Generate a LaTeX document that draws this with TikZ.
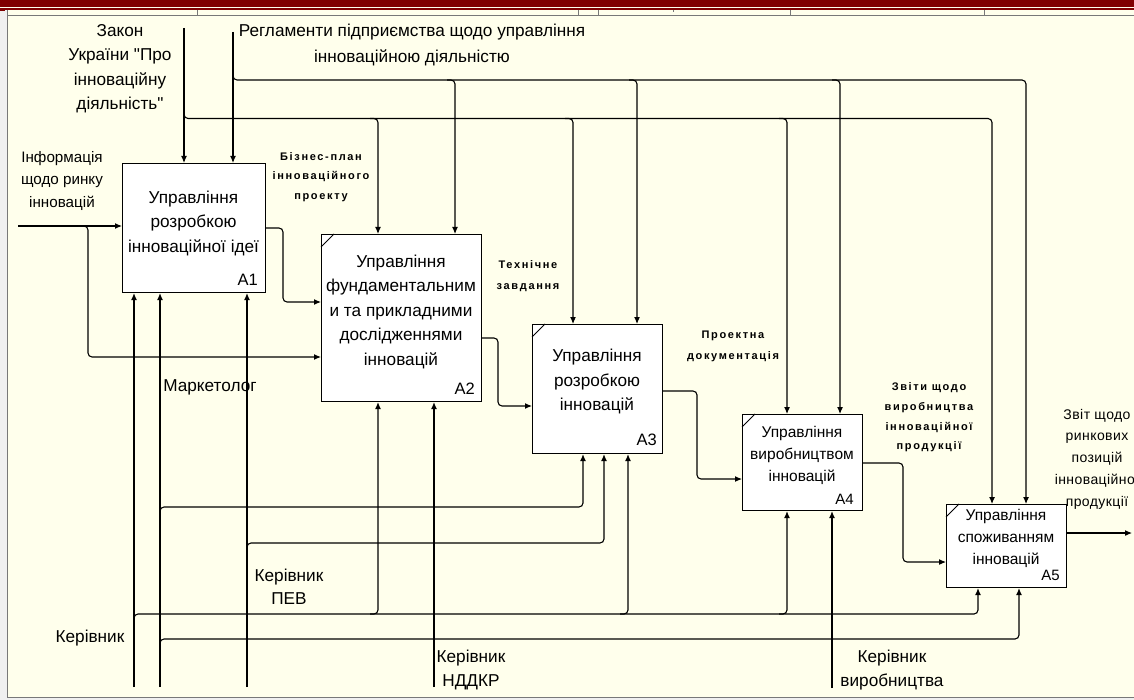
\documentclass[tikz,border=0pt]{standalone}
\usepackage{fontspec}
\setmainfont{Liberation Sans}[Ligatures=TeXOff]
\newfontfamily\lblfont[LetterSpace=15,Ligatures=TeXOff]{Liberation Sans}
\newfontfamily\rptfont[LetterSpace=3,Ligatures=TeXOff]{Liberation Sans}
\usetikzlibrary{arrows.meta,calc}
\definecolor{bg}{RGB}{255,255,236}
\definecolor{maroonc}{RGB}{128,0,0}
\definecolor{frameg}{RGB}{120,120,120}
\definecolor{stripc}{RGB}{240,240,240}
\tikzset{
  box/.style={draw, fill=white, line width=1.1pt, inner sep=0pt, anchor=north west},
  conn/.style={line width=1.1pt, rounded corners=4pt},
  arr/.style={conn, -{Latex[length=7pt,width=6pt]}},
  corner/.style={line width=0.8pt},
  boxtxt/.style={align=center, inner sep=0pt, font=\fontsize{17.2}{24.5}\selectfont},
  boxtxts/.style={align=center, inner sep=0pt, font=\fontsize{15.5}{22}\selectfont},
  num/.style={inner sep=0pt, anchor=base east, font=\fontsize{16.5}{18}\selectfont},
  nums/.style={inner sep=0pt, anchor=base east, font=\fontsize{15}{17}\selectfont},
  lbl/.style={align=center, inner sep=0pt, font=\fontsize{17.2}{24.5}\selectfont},
  blbl/.style={align=center, inner sep=0pt, font=\lblfont\bfseries\fontsize{11}{19.6}\selectfont},
  rpt/.style={align=center, inner sep=0pt, font=\rptfont\fontsize{14}{21.7}\selectfont},
}
\begin{document}
\begin{tikzpicture}[x=1pt,y=-1pt]
\useasboundingbox (0,0) rectangle (1134,700);
\clip (0,0) rectangle (1134,700);
% ---- window frame ----
\fill[bg] (0,0) rectangle (1134,700);
\fill[stripc] (0,10) rectangle (7,700);
\fill[stripc] (7,697) rectangle (1134,700);
\fill[maroonc] (0,0) rectangle (1134,7.3);
\fill[maroonc] (0,8.3) rectangle (1134,9.6);
\fill[maroonc] (0,9.6) rectangle (5,11);
\draw[frameg, line width=1pt] (7.5,10) -- (7.5,697);
\draw[frameg, line width=1pt] (7,15.5) -- (1134,15.5);
\draw[frameg, line width=1pt] (7,697) -- (1134,697);
\foreach \x in {197,578,598,790,984} \draw[frameg, line width=1pt] (\x,10) -- (\x,15.5);
\draw[frameg, line width=0.6pt] (673,10) -- (673,12);

% ---- activity boxes ----
\node[box, minimum width=143pt, minimum height=129pt] (A1) at (122,163) {};
\node[box, minimum width=160pt, minimum height=167pt] (A2) at (321,234) {};
\node[box, minimum width=130pt, minimum height=129pt] (A3) at (532,324) {};
\node[box, minimum width=120pt, minimum height=96pt] (A4) at (742,414) {};
\node[box, minimum width=120pt, minimum height=83pt] (A5) at (946,504) {};
\foreach \b in {A2,A3,A4,A5}
  \draw[corner] ($(\b.north west)+(0,13)$) -- ($(\b.north west)+(13,0)$);

\node[boxtxt] (A1t) at (193.5,223) {Управління\\розробкою\\інноваційної ідеї};
\node[boxtxt] (A2t) at (401,311.5) {Управління\\фундаментальним\\и та прикладними\\дослідженнями\\інновацій};
\node[boxtxt] (A3t) at (597,381.5) {Управління\\розробкою\\інновацій};
\node[boxtxts] (A4t) at (802,455.5) {Управління\\виробництвом\\інновацій};
\node[boxtxts] (A5t) at (1006,538.5) {Управління\\споживанням\\інновацій};
\node[num] (A1n) at (258,286) {A1};
\node[num] (A2n) at (475,394) {A2};
\node[num] (A3n) at (657,445) {A3};
\node[nums] (A4n) at (854,504) {A4};
\node[nums] (A5n) at (1060,580) {A5};

% ---- labels ----
\node[lbl] (zakonL) at (120,68.5) {Закон\\України "Про\\інноваційну\\діяльність"};
\node[lbl, font=\fontsize{17.2}{26}\selectfont] (reglL) at (412,45) {Регламенти підприємства щодо управління\\інноваційною діяльністю};
\node[lbl, font=\fontsize{15.2}{22.5}\selectfont] (infoL) at (62,181) {Інформація\\щодо ринку\\інновацій};
\node[lbl] (marketL) at (210,387) {Маркетолог};
\node[lbl] (kerL) at (90,638) {Керівник};
\node[lbl, font=\fontsize{17.2}{23.5}\selectfont] (pevL) at (289,587) {Керівник\\ПЕВ};
\node[lbl] (ndL) at (471,670) {Керівник\\НДДКР};
\node[lbl] (virL) at (892,670) {Керівник\\виробництва};
\node[rpt] (zvitL) at (1097,459) {Звіт щодо\\ринкових\\позицій\\інноваційної\\продукції};
\node[blbl] (bizL) at (321,177) {Бізнес-план\\інноваційного\\проекту};
\node[blbl, font=\lblfont\bfseries\fontsize{11}{21}\selectfont] (tehL) at (528,276.5) {Технічне\\завдання};
\node[blbl, font=\lblfont\bfseries\fontsize{11}{21}\selectfont] (proL) at (733,346.5) {Проектна\\документація};
\node[blbl] (zvitiL) at (929,417.5) {Звіти щодо\\виробництва\\інноваційної\\продукції};

% ---- free ends ----
\coordinate (zakon) at (184,28);
\coordinate (regl) at (233,32);
\coordinate (info) at (18,226);
\coordinate (out5) at (1132,533);
\coordinate (ker) at (134,687);
\coordinate (mark) at (160,687);
\coordinate (pev) at (247,687);
\coordinate (nd) at (434,687);
\coordinate (vir) at (832,688);

% ---- controls ----
\draw[arr] (zakon) -- ($(A1.north west)+(62,0)$);
\draw[arr] (184,110) |- (992,118.5) -- ($(A5.north west)+(46,0)$);
\draw[arr] (370,118.5) -| ($(A2.north west)+(57,0)$);
\draw[arr] (565,118.5) -| ($(A3.north west)+(41,0)$);
\draw[arr] (779,118.5) -| ($(A4.north west)+(45,0)$);
\draw[arr] (regl) -- ($(A1.north west)+(111,0)$);
\draw[arr] (233,72) |- (1026,80) -- ($(A5.north west)+(80,0)$);
\draw[arr] (447,80) -| ($(A2.north west)+(134,0)$);
\draw[arr] (629,80) -| ($(A3.north west)+(105,0)$);
\draw[arr] (832,80) -| ($(A4.north west)+(98,0)$);

% ---- inputs / outputs ----
\draw[arr] (info) -- ($(A1.north west)+(0,63)$);
\draw[arr] (80,226) -| (88,357) -- ($(A2.north west)+(0,123)$);
\draw[arr] ($(A1.north east)+(0,65)$) -- (283,228) -- (283,302) -- ($(A2.north west)+(0,68)$);
\draw[arr] ($(A2.north east)+(0,104)$) -- (498,338) -- (498,406) -- ($(A3.north west)+(0,82)$);
\draw[arr] ($(A3.north east)+(0,67)$) -- (697,391) -- (697,479) -- ($(A4.north west)+(0,65)$);
\draw[arr] ($(A4.north east)+(0,49)$) -- (903,463) -- (903,562) -- ($(A5.north west)+(0,58)$);
\draw[arr] ($(A5.north east)+(0,29)$) -- (out5);

% ---- mechanisms ----
\draw[arr] (ker) -- ($(A1.south west)+(12,0)$);
\draw[arr] (134,622) |- (978,614) -- ($(A5.south west)+(32,0)$);
\draw[arr] (370,614) -| ($(A2.south west)+(57,0)$);
\draw[arr] (620,614) -| ($(A3.south west)+(96,0)$);
\draw[arr] (779,614) -| ($(A4.south west)+(45,0)$);
\draw[arr] (mark) -- ($(A1.south west)+(38,0)$);
\draw[arr] (160,515) |- (583,507) -- ($(A3.south west)+(51,0)$);
\draw[arr] (160,647) |- (1019,639) -- ($(A5.south west)+(73,0)$);
\draw[arr] (pev) -- ($(A1.south west)+(125,0)$);
\draw[arr] (247,551) |- (604,543) -- ($(A3.south west)+(72,0)$);
\draw[arr] (nd) -- ($(A2.south west)+(113,0)$);
\draw[arr] (vir) -- ($(A4.south west)+(90,0)$);
\end{tikzpicture}
\end{document}
